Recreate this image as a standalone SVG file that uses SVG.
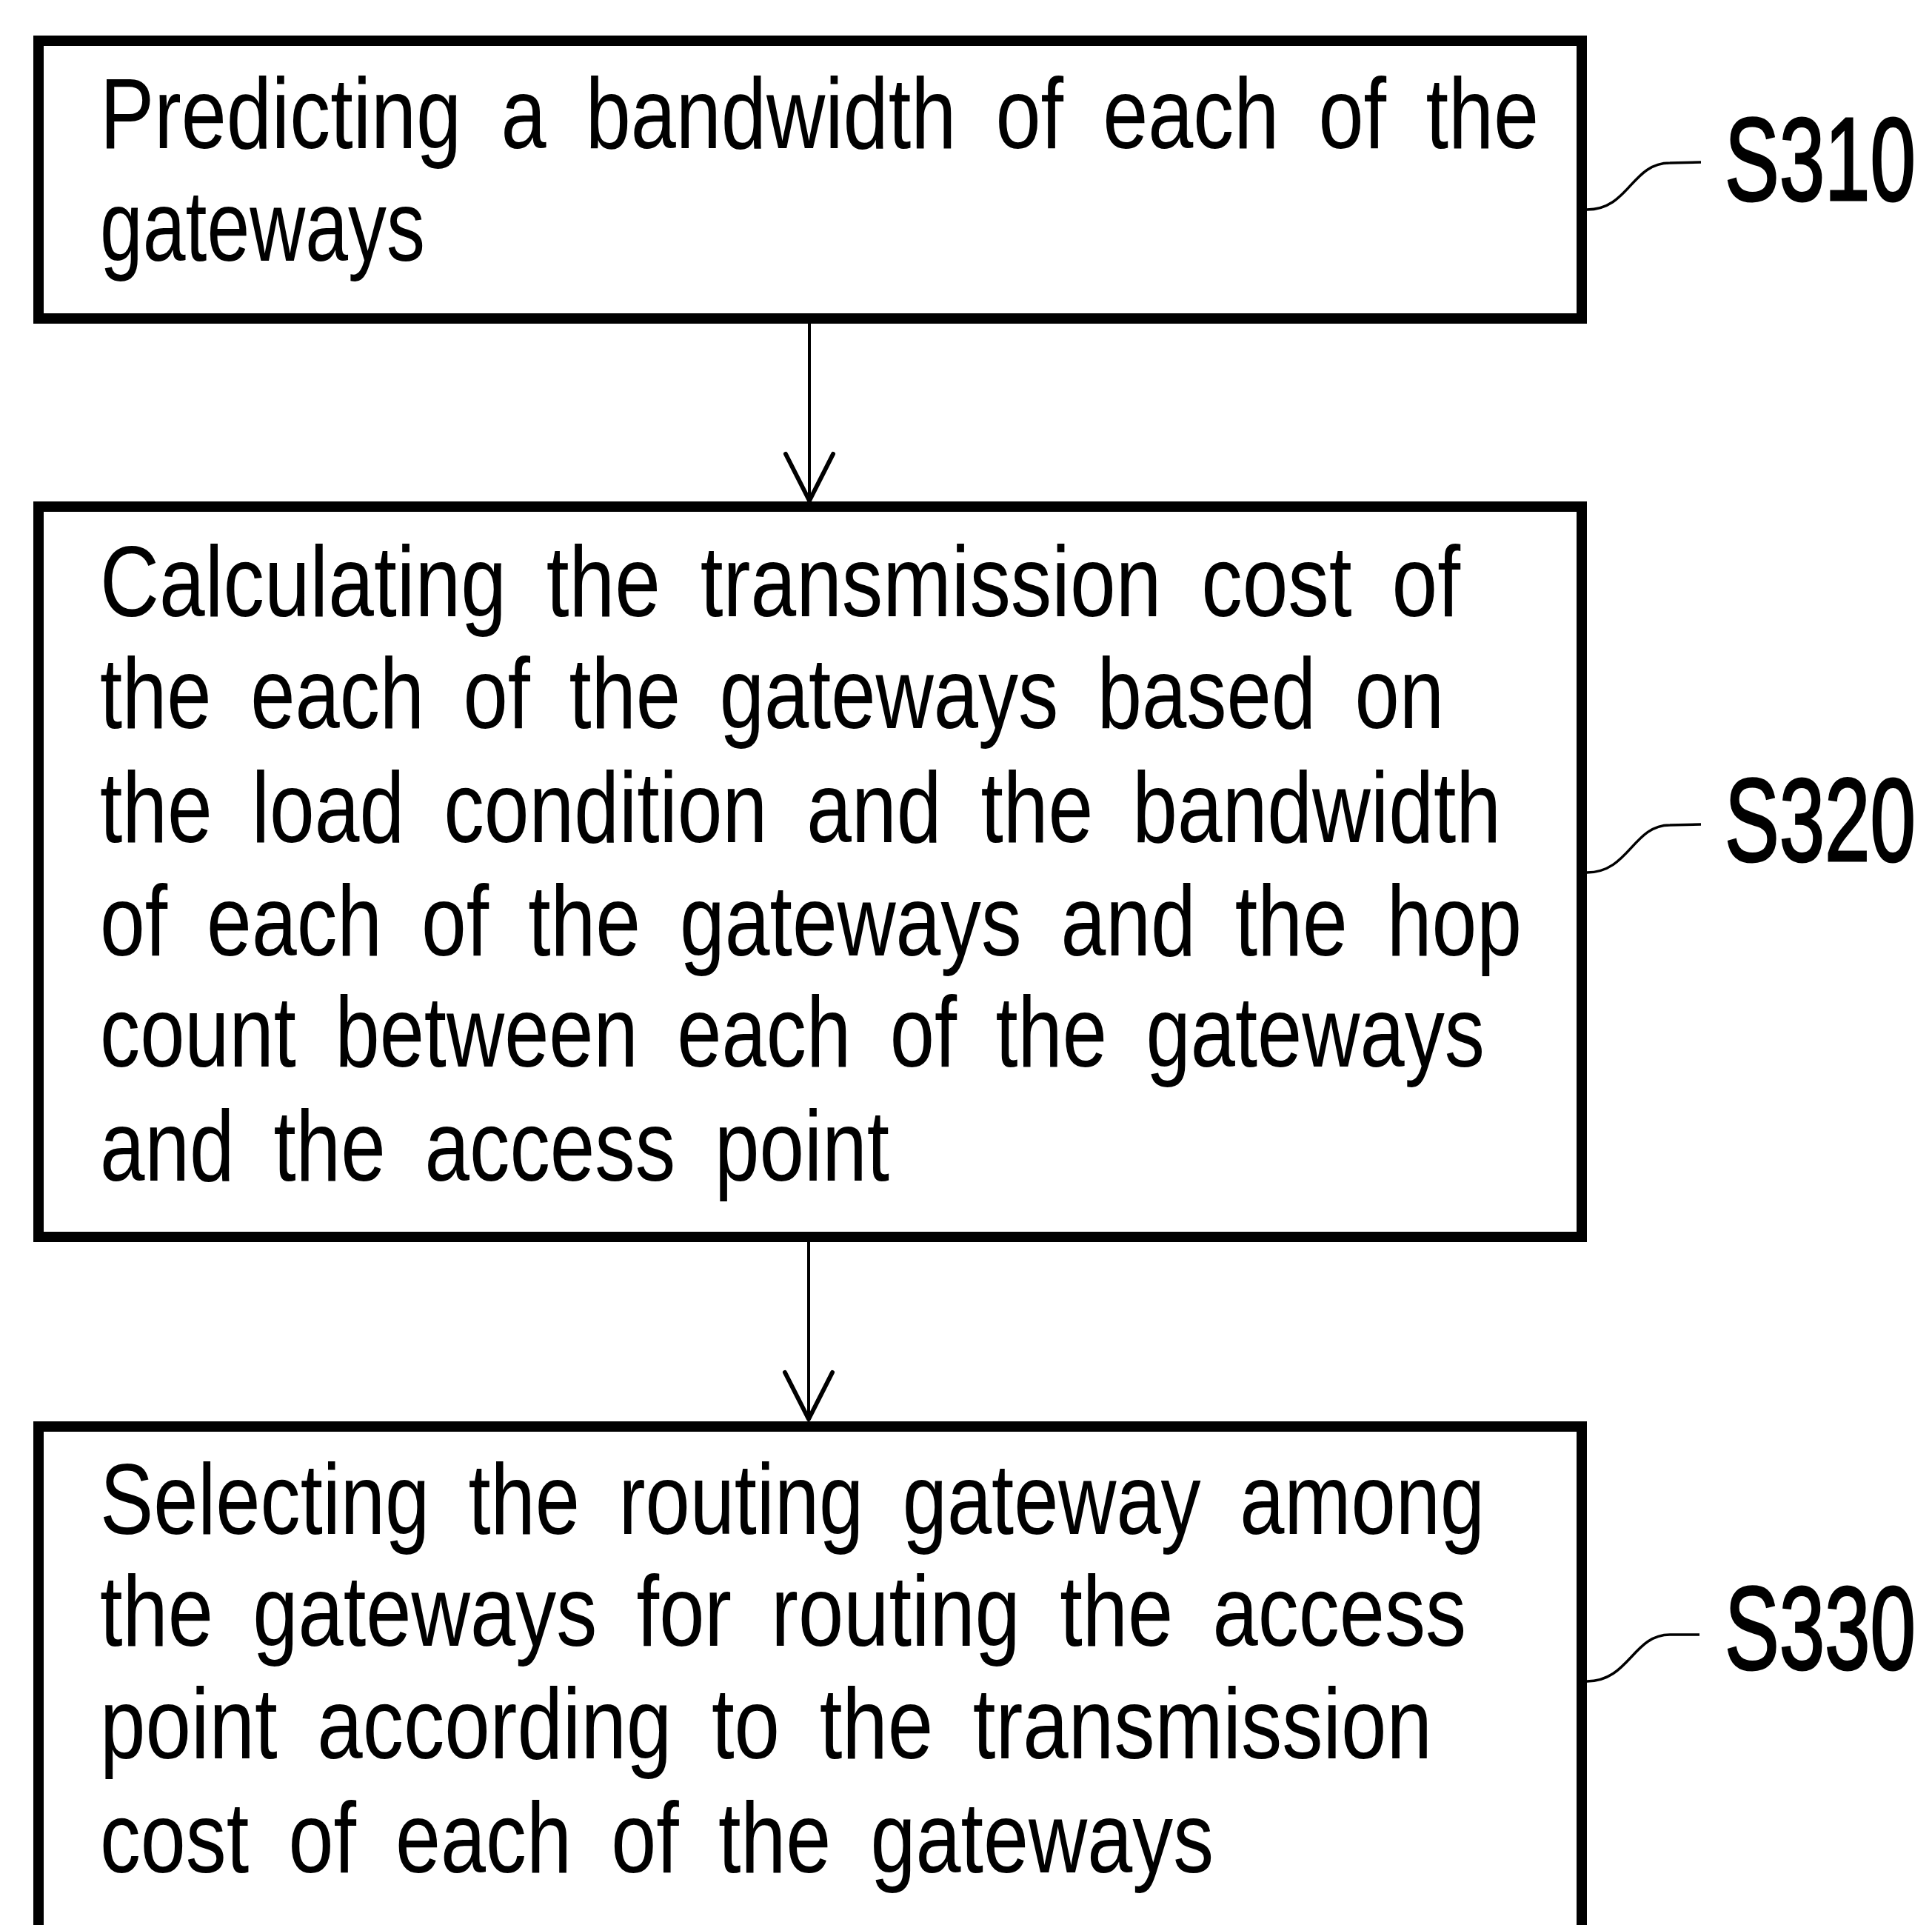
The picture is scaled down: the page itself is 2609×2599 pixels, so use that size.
<svg xmlns="http://www.w3.org/2000/svg" width="2609" height="2599" viewBox="0 0 2609 2599">
  <style>
    .box { fill: #fff; stroke: #000; stroke-width: 14; }
    .txt { font-family: "Liberation Sans", Arial, sans-serif; font-size: 135px; word-spacing: 28px; fill: #000; }
    .lbl { font-family: "Liberation Sans", Arial, sans-serif; font-size: 160px; fill: #000; stroke: #000; stroke-width: 3; }
    .lead { fill: none; stroke: #000; stroke-width: 3.5; }
    .flow { fill: none; stroke: #000; stroke-width: 4; }
  </style>
  <defs>
    <marker id="vhead" markerUnits="userSpaceOnUse" viewBox="-70 -40 80 80" markerWidth="80" markerHeight="80" refX="0" refY="0" orient="auto" overflow="visible">
      <path d="M-63,-32 L0,0 L-63,32" fill="none" stroke="#000" stroke-width="6" stroke-linejoin="round" stroke-linecap="round"/>
    </marker>
  </defs>
  <rect width="2609" height="2599" fill="#fff"/>

  <g id="connectors">
    <line class="flow" x1="1093" y1="437" x2="1093" y2="676" marker-end="url(#vhead)"/>
    <line class="flow" x1="1092" y1="1677" x2="1092" y2="1916" marker-end="url(#vhead)"/>
    <path class="lead" d="M2143,283 C2200,283 2203,220 2255,220 L2297,219"/>
    <path class="lead" d="M2143,1178 C2200,1178 2205,1114 2255,1114 L2297,1113"/>
    <path class="lead" d="M2143,2270 C2200,2270 2205,2207 2255,2207 L2295,2207"/>
  </g>

  <g id="S310">
    <rect class="box" x="52" y="55" width="2084" height="375"/>
    <text class="txt" x="135" y="200" textLength="1943" lengthAdjust="spacingAndGlyphs">Predicting a bandwidth of each of the</text>
    <text class="txt" x="135" y="352" textLength="439" lengthAdjust="spacingAndGlyphs">gateways</text>
    <text class="lbl" x="2329" y="270" textLength="258" lengthAdjust="spacingAndGlyphs">S310</text>
  </g>

  <g id="S320">
    <rect class="box" x="52" y="684" width="2084" height="986"/>
    <text class="txt" x="135" y="832" textLength="1837" lengthAdjust="spacingAndGlyphs">Calculating the transmission cost of</text>
    <text class="txt" x="135" y="983" textLength="1815" lengthAdjust="spacingAndGlyphs">the each of the gateways based on</text>
    <text class="txt" x="135" y="1137" textLength="1892" lengthAdjust="spacingAndGlyphs">the load condition and the bandwidth</text>
    <text class="txt" x="135" y="1290" textLength="1920" lengthAdjust="spacingAndGlyphs">of each of the gateways and the hop</text>
    <text class="txt" x="135" y="1440" textLength="1870" lengthAdjust="spacingAndGlyphs">count between each of the gateways</text>
    <text class="txt" x="135" y="1594" textLength="1066" lengthAdjust="spacingAndGlyphs">and the access point</text>
    <text class="lbl" x="2329" y="1162" textLength="258" lengthAdjust="spacingAndGlyphs">S320</text>
  </g>

  <g id="S330">
    <rect class="box" x="52" y="1926" width="2084" height="800"/>
    <text class="txt" x="135" y="2071" textLength="1870" lengthAdjust="spacingAndGlyphs">Selecting the routing gateway among</text>
    <text class="txt" x="135" y="2222" textLength="1845" lengthAdjust="spacingAndGlyphs">the gateways for routing the access</text>
    <text class="txt" x="135" y="2374" textLength="1799" lengthAdjust="spacingAndGlyphs">point according to the transmission</text>
    <text class="txt" x="135" y="2528" textLength="1504" lengthAdjust="spacingAndGlyphs">cost of each of the gateways</text>
    <text class="lbl" x="2329" y="2253" textLength="258" lengthAdjust="spacingAndGlyphs">S330</text>
  </g>
</svg>
